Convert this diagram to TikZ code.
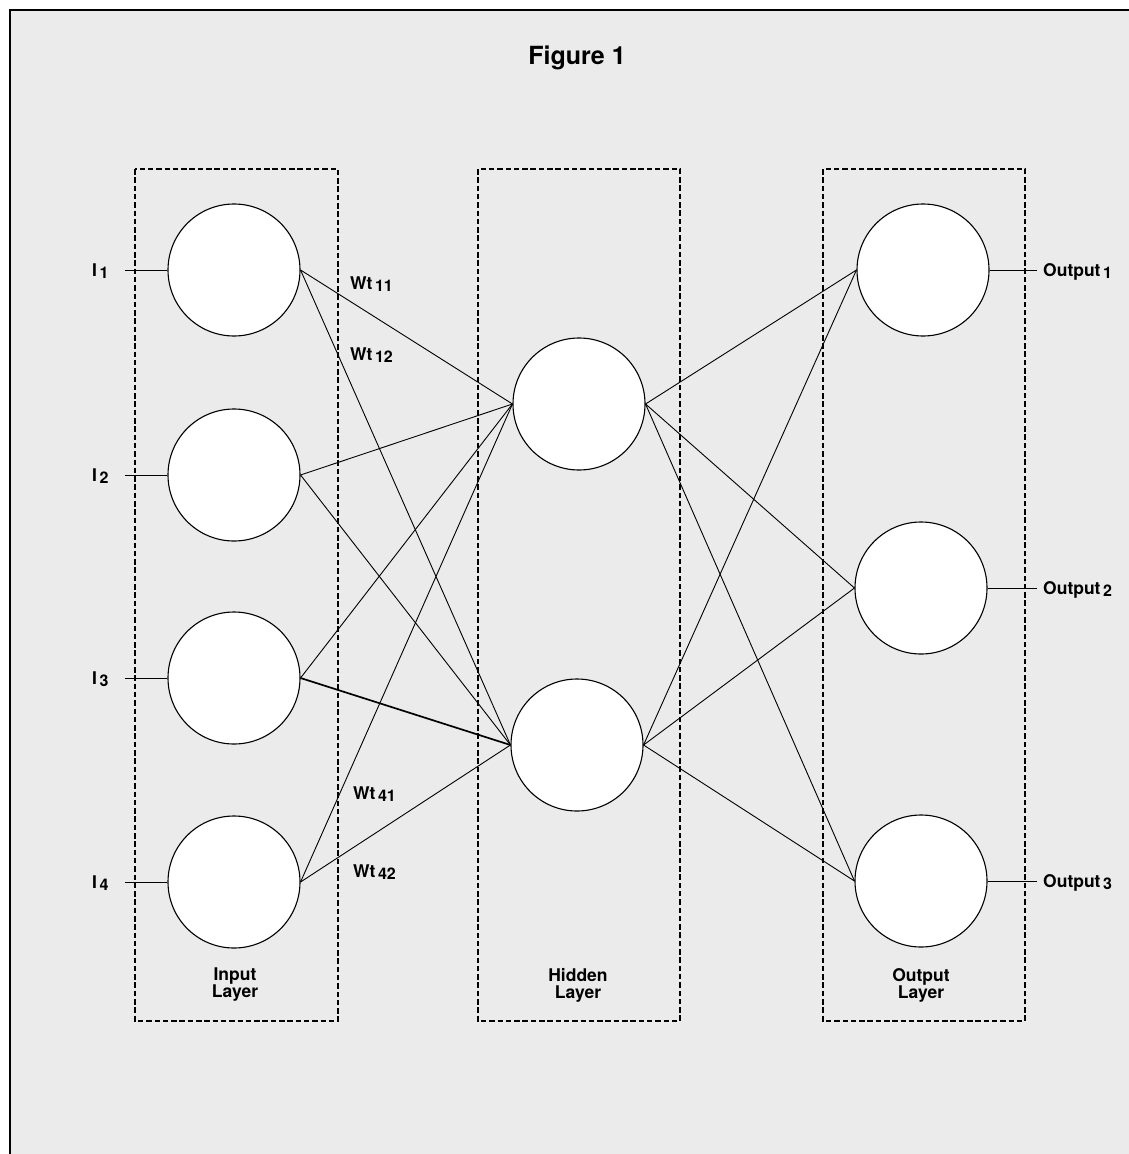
\documentclass[tikz,border=0pt]{standalone}
\usepackage{fontspec}
\setmainfont{TeX Gyre Heros}
\definecolor{panel}{RGB}{235,235,235}
\newcommand\lowidx[1]{\hspace{2.5pt}\raisebox{-2.5pt}{\fontsize{16}{16}\selectfont #1}}
\begin{document}
\begin{tikzpicture}[x=1pt,y=-1pt,
  neuron/.style={circle,draw=black,fill=white,line width=1.1pt,minimum size=132pt,inner sep=0pt},
  layerbox/.style={draw=black,line width=2.4pt,dash pattern=on 5.5pt off 2.8pt},
  link/.style={draw=black,line width=0.9pt},
  lbl/.style={font=\fontsize{17.5}{17.5}\selectfont\bfseries,inner sep=0pt},
  layername/.style={font=\fontsize{17.5}{17}\selectfont\bfseries,align=center,inner sep=0pt},
  title/.style={font=\fontsize{25}{25}\selectfont\bfseries,inner sep=0pt}]
  % canvas and framed panel
  \useasboundingbox (0,0) rectangle (1129,1154);
  \fill[white] (0,0) rectangle (1129,1154);
  \fill[panel] (10,10) rectangle (1129,1154);
  \draw[line width=1.6pt] (10,1154) -- (10,10) -- (1129,10);

  \node[title] (title) at (577,58) {Figure 1};

  % layer frames
  \draw[layerbox] (135,169) rectangle (338,1021);
  \draw[layerbox] (478,169) rectangle (680,1021);
  \draw[layerbox] (823,169) rectangle (1025,1021);

  \node[layername] (lin)  at (235,985) {Input\\Layer};
  \node[layername] (lhid) at (578,985) {Hidden\\Layer};
  \node[layername] (lout) at (921,985) {Output\\Layer};

  % neurons
  \node[neuron] (i1) at (234,270) {};
  \node[neuron] (i2) at (234,475) {};
  \node[neuron] (i3) at (234,678) {};
  \node[neuron] (i4) at (234,882) {};
  \node[neuron] (h1) at (579,404) {};
  \node[neuron] (h2) at (577,745) {};
  \node[neuron] (o1) at (923,270) {};
  \node[neuron] (o2) at (921,588) {};
  \node[neuron] (o3) at (921,881) {};

  % input leads
  \foreach \k/\y in {1/270,2/475,3/678,4/882}{
    \coordinate (in\k) at (125,\y);
    \draw[link] (in\k) -- (i\k.west);
    \node[lbl,anchor=base west] (ilab\k) at (92,\y+6) {I\lowidx{\k}};
  }

  % output leads
  \foreach \k/\y in {1/270,2/588,3/881}{
    \coordinate (out\k) at (1037,\y);
    \draw[link] (o\k.east) -- (out\k);
    \node[lbl,anchor=base west] (olab\k) at (1043,\y+6) {Output\lowidx{\k}};
  }

  % input to hidden connections
  \foreach \k in {1,2,4}{
    \draw[link] (i\k.east) -- (h1.west);
    \draw[link] (i\k.east) -- (h2.west);
  }
  \draw[link] (i3.east) -- (h1.west);
  \draw[link,line width=1.7pt] (i3.east) -- (h2.west);

  % hidden to output connections
  \foreach \h in {1,2}{
    \foreach \o in {1,2,3}{
      \draw[link] (h\h.east) -- (o\o.west);
    }
  }

  % weight labels
  \node[lbl,anchor=base west] (w11) at (350,289) {Wt\lowidx{11}};
  \node[lbl,anchor=base west] (w12) at (350,360) {Wt\lowidx{12}};
  \node[lbl,anchor=base west] (w41) at (353,799) {Wt\lowidx{41}};
  \node[lbl,anchor=base west] (w42) at (353,877) {Wt\lowidx{42}};
\end{tikzpicture}
\end{document}
